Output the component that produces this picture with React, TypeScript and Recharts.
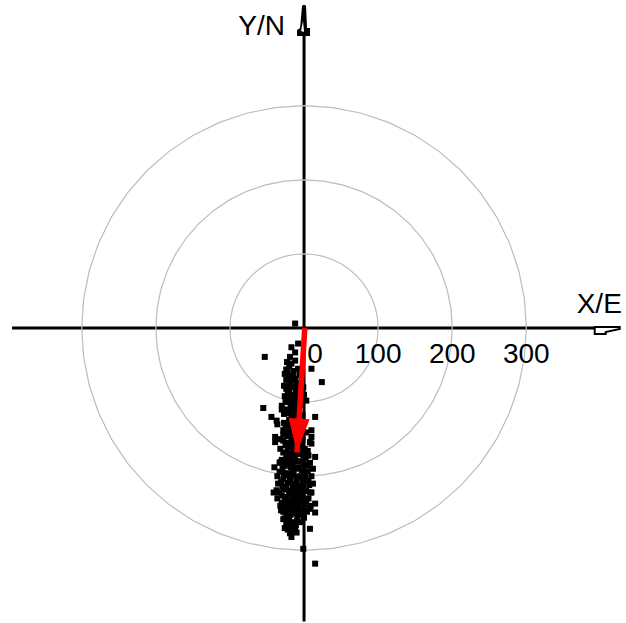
import React from 'react';
import { ScatterChart, Scatter, XAxis, YAxis, ReferenceLine, ReferenceDot } from 'recharts';

// ---- data ----
const X_TICKS = [0, 100, 200, 300];
const RINGS = [100, 200, 300];
const X_AXIS_EXTENT = [-394, 426];
const Y_AXIS_EXTENT = [-396, 436];
const X_LABEL = 'X/E';
const Y_LABEL = 'Y/N';
const MEAN_VECTOR = [{ x: 1, y: 0 }, { x: -9.5, y: -168 }];

// displacement points (East, North)
const POINTS: [number, number][] = [
  [-12, 6], [-53, -39], [-17, -26], [-12, -33], [-19, -39], [-12, -44], [-23, -46], [-17, -48],
  [-8, -21], [10, -55], [24, -73], [-22, -60], [-15, -65], [-5, -57], [-27, -78], [-20, -84],
  [-13, -91], [-1, -80], [3, -98], [-19, -98], [-55, -108], [-30, -105], [-17, -109], [-44, -120],
  [-37, -125], [15, -120], [10, -138], [-39, -147], [-28, -138], [-28, -152], [10, -147], [10, -156],
  [-32, -163], [15, -174], [1, -163], [3, -173], [-23, -179], [-15, -183], [-39, -154], [8, -154],
  [-32, -181], [-37, -219], [-41, -222], [10, -222], [15, -237], [15, -249], [-32, -240], [-26, -257],
  [-22, -260], [-15, -264], [-19, -271], [-19, -277], [-12, -269], [8, -271], [-1, -298], [15, -318],
  [-20, -52], [-8, -55], [-26, -62], [-12, -68], [-3, -70], [-18, -74], [-9, -78], [-22, -88],
  [-6, -86], [-14, -95], [-25, -100], [-4, -104], [-10, -112], [-21, -115], [-2, -118], [-15, -122],
  [-27, -128], [-8, -126], [-18, -132], [-5, -135], [-23, -140], [-12, -143], [3, -141], [-17, -150],
  [-30, -110], [-11, -100], [0, -90], [-16, -80],
  [-25, -158], [-18, -160], [-10, -162], [-3, -158], [5, -166], [-28, -168], [-20, -170], [-13, -172],
  [-6, -170], [2, -176], [-30, -178], [-8, -180], [0, -184], [8, -182], [-26, -186], [-18, -188],
  [-11, -190], [-3, -192], [5, -194], [-33, -194], [-22, -196], [-14, -198], [-6, -200], [2, -202],
  [10, -200], [-28, -204], [-19, -206], [-10, -208], [-1, -210], [7, -212], [-35, -210], [-24, -214],
  [-15, -216], [-6, -218], [3, -220], [-30, -226], [-20, -224], [-11, -226], [-2, -228], [6, -230],
  [-26, -232], [-16, -234], [-7, -236], [1, -238], [-22, -242], [-12, -244], [-4, -246], [4, -248],
  [-28, -248], [-18, -252], [-9, -254], [0, -256], [-14, -262], [-24, -264], [-5, -262], [-30, -236],
  [-36, -200], [9, -240], [12, -210], [-40, -188], [12, -190], [-17, -282], [-10, -276], [-22, -272],
  [-21, -155], [-14, -165], [-4, -167], [-24, -175], [-16, -177], [4, -186], [-29, -190], [-7, -188],
  [-15, -193], [0, -196], [-25, -199], [-10, -202], [6, -206], [-31, -208], [-15, -210], [-5, -213],
  [-27, -218], [-20, -219], [-10, -220], [8, -222], [-34, -222], [-16, -228], [-6, -231], [-24, -228],
  [3, -234], [-12, -238], [-28, -241], [-19, -240], [-7, -242], [8, -244], [-24, -252], [-13, -250],
  [-3, -252], [-20, -258], [-9, -260], [-28, -258], [-17, -268], [-26, -270], [0, -246], [-36, -230],
  [-33, -182], [6, -172], [-12, -156], [-32, -150],
  [-24, -56], [-14, -58], [-6, -64], [-19, -66], [-24, -70], [-11, -84], [-26, -92], [-18, -104],
  [-7, -108], [-24, -110], [-13, -116], [-20, -124], [-3, -128], [-11, -132], [-25, -134], [-15, -138],
  [-8, -146], [-22, -146], [-36, -130], [-2, -150],
  [-17, -156], [-7, -160], [-22, -165], [-1, -172], [-12, -177], [-20, -183], [-4, -180], [-27, -196],
  [-18, -201], [-2, -205], [-22, -209], [-12, -214], [-1, -216], [-29, -214], [-17, -222], [-4, -224],
  [-22, -235], [-13, -231], [0, -232], [-9, -248], [-16, -246], [-31, -246], [-21, -248], [-11, -266],
  [-22, -266], [-15, -274],
  [-16, -70], [-21, -78], [-10, -74], [-24, -82], [-18, -90], [-8, -94], [-22, -96], [-14, -104],
  [-27, -116], [-17, -118], [-10, -120], [-21, -130], [-14, -128], [-28, -144], [-19, -142],
];

const RING_SEGMENTS = 48;

const FONT = 'Liberation Sans, Arial, sans-serif';

const pointData = POINTS.map(([x, y]) => ({ x, y }));
const ringData = RINGS.map((r) => {
  const pts = [];
  for (let i = 0; i <= RING_SEGMENTS; i++) {
    const a = (i / RING_SEGMENTS) * Math.PI * 2;
    pts.push({ x: r * Math.cos(a), y: r * Math.sin(a) });
  }
  return pts;
});

const SquareDot = (props: any) => {
  const { cx, cy } = props;
  if (cx == null || cy == null) return <g />;
  return <rect x={cx - 3} y={cy - 3} width={6} height={6} fill="#000" />;
};

const Empty = () => <g />;

// arrow head drawn at the tip of the mean vector; x and y scales share one px/unit ratio
const dvx = MEAN_VECTOR[1].x - MEAN_VECTOR[0].x;
const dvy = -(MEAN_VECTOR[1].y - MEAN_VECTOR[0].y);
const ArrowHead = (props: any) => {
  const { cx, cy, index } = props;
  if (cx == null || cy == null || index !== 1) return <g />;
  const len = Math.sqrt(dvx * dvx + dvy * dvy);
  const ux = dvx / len;
  const uy = dvy / len;
  const nx = -uy;
  const ny = ux;
  const headLen = 34;
  const headW = 10.5;
  const bx = cx - ux * headLen;
  const by = cy - uy * headLen;
  const pts = [
    [bx + nx * headW, by + ny * headW],
    [cx, cy],
    [bx - nx * headW, by - ny * headW],
  ];
  return <polygon points={pts.map((p) => p.join(',')).join(' ')} fill="#ff0000" />;
};

const XArrowEnd = (props: any) => {
  const { cx, cy } = props;
  if (cx == null || cy == null) return <g />;
  const pts = [[-25, -1], [0, -1], [0, 1], [-14, 4], [-14, 6], [-25, 6]];
  return (
    <g>
      <polygon points={pts.map(([a, b]) => `${cx + a},${cy + b}`).join(' ')} fill="#fff" stroke="#000" strokeWidth={2} />
      <text x={cx - 43} y={cy - 15} fontFamily={FONT} fontSize={28} fill="#000">{X_LABEL}</text>
    </g>
  );
};

const YArrowEnd = (props: any) => {
  const { cx, cy } = props;
  if (cx == null || cy == null) return <g />;
  const pts = [[-2, 1], [2, 1], [3, 23], [6, 23], [6, 31], [-7, 31], [-7, 25], [-4, 23]];
  return (
    <g>
      <polygon points={pts.map(([a, b]) => `${cx + a},${cy + b}`).join(' ')} fill="#000" />
      <polygon points={`${cx - 3},${cy + 26} ${cx - 1},${cy + 16} ${cx},${cy + 27}`} fill="#fff" />
      <text x={cx - 19} y={cy + 30} textAnchor="end" fontFamily={FONT} fontSize={28} fill="#000">{Y_LABEL}</text>
    </g>
  );
};

const TickLabel = (props: any) => {
  const { cx, cy, value } = props;
  if (cx == null || cy == null) return <g />;
  const shift = value === 0 ? 11 : 0;
  return (
    <text x={cx + shift} y={cy + 35} textAnchor="middle" fontFamily={FONT} fontSize={28} fill="#000">
      {String(value)}
    </text>
  );
};

export default function App() {
  return (
    <div style={{ position: 'absolute', left: 0, top: 0, width: 626, height: 623, background: '#fff' }}>
      <ScatterChart width={626} height={623} margin={{ top: 0, right: 0, bottom: 0, left: 0 }}>
        <XAxis type="number" dataKey="x" domain={[-410.3, 434.5]} hide allowDataOverflow />
        <YAxis type="number" dataKey="y" domain={[-398.1, 442.6]} hide allowDataOverflow />
        {ringData.map((d, i) => (
          <Scatter
            key={`ring-${i}`}
            data={d}
            line={{ stroke: '#bdbdbd', strokeWidth: 1.2 }}
            lineJointType="linear"
            shape={Empty}
            isAnimationActive={false}
          />
        ))}
        <ReferenceLine
          segment={[{ x: X_AXIS_EXTENT[0], y: 0 }, { x: X_AXIS_EXTENT[1], y: 0 }]}
          stroke="#000"
          strokeWidth={3}
          ifOverflow="visible"
        />
        <ReferenceLine
          segment={[{ x: 0, y: Y_AXIS_EXTENT[0] }, { x: 0, y: Y_AXIS_EXTENT[1] }]}
          stroke="#000"
          strokeWidth={3}
          ifOverflow="visible"
        />
        {X_TICKS.map((t) => (
          <ReferenceDot key={`tick-${t}`} x={t} y={0} r={0} ifOverflow="visible" shape={(p: any) => <TickLabel {...p} value={t} />} />
        ))}
        <ReferenceDot x={X_AXIS_EXTENT[1]} y={0} r={0} ifOverflow="visible" shape={XArrowEnd} />
        <ReferenceDot x={0} y={Y_AXIS_EXTENT[1]} r={0} ifOverflow="visible" shape={YArrowEnd} />
        <Scatter data={pointData} shape={SquareDot} isAnimationActive={false} />
        <Scatter
          data={MEAN_VECTOR}
          line={{ stroke: '#ff0000', strokeWidth: 5.5 }}
          lineJointType="linear"
          shape={ArrowHead}
          isAnimationActive={false}
        />
      </ScatterChart>
    </div>
  );
}
